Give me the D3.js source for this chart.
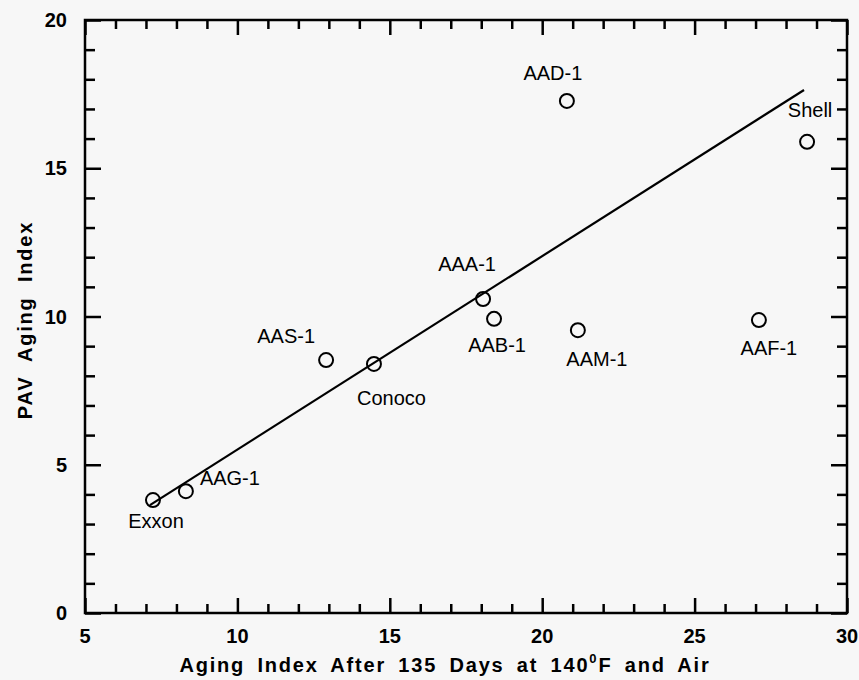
<!DOCTYPE html>
<html>
<head>
<meta charset="utf-8">
<script src="https://cdn.jsdelivr.net/npm/d3@7"></script>
<style>
  html, body { margin: 0; padding: 0; background: #f7f7f7; }
  svg { display: block; font-family: "Liberation Sans", Arial, Helvetica, sans-serif; }
  .axis path, .axis line { stroke: #000; stroke-width: 2.5; }
  .tick-label { font-size: 20px; font-weight: bold; fill: #000; }
  .pt-label { font-size: 20px; fill: #000; }
</style>
</head>
<body>
<div id="chart"></div>
<script>
// asphalt names + aging indices
const names = ["Exxon", "AAG-1", "AAS-1", "Conoco", "AAA-1", "AAB-1", "AAM-1", "AAF-1", "AAD-1", "Shell"];
const ovenIndex = [7.23, 8.31, 12.91, 14.48, 18.06, 18.42, 21.17, 27.11, 20.81, 28.69];
const pavIndex = [3.81, 4.11, 8.53, 8.40, 10.59, 9.92, 9.54, 9.88, 17.27, 15.89];

// fitted line ends
const fitX = [7.13, 28.59];
const fitY = [3.64, 17.64];

const xTicks = [5, 10, 15, 20, 25, 30];
const yTicks = [0, 5, 10, 15, 20];

// label placement (anchor, dx, dy) per point
const labelPos = [
  ["middle", 3, 28], ["start", 14, -6], ["end", -11, -17], ["start", -17, 41],
  ["middle", -16, -28], ["middle", 3, 33], ["middle", 19, 36], ["middle", 10, 35],
  ["middle", -14, -21], ["middle", 3, -25]
];

const width = 859, height = 680;
const mLeft = 85, mRight = 847, mTop = 20, mBottom = 613;

const x = d3.scaleLinear([5, 30], [mLeft, mRight]);
const y = d3.scaleLinear([0, 20], [mBottom, mTop]);

const svg = d3.select("#chart").append("svg")
  .attr("width", width)
  .attr("height", height);

svg.append("rect").attr("width", width).attr("height", height).attr("fill", "#f7f7f7");

const minorX = d3.range(5, 31, 1).filter(d => d % 5 !== 0);
const minorY = d3.range(0, 21, 1).filter(d => d % 5 !== 0);

// ticks pointing inward on all four sides
function addAxis(gen, tr, vals, size) {
  svg.append("g")
    .attr("class", "axis")
    .attr("transform", tr)
    .call(gen.tickValues(vals).tickSize(size).tickFormat(""))
    .call(g => g.select(".domain").remove());
}
addAxis(d3.axisBottom(x), `translate(0,${mBottom})`, xTicks, -15);
addAxis(d3.axisBottom(x), `translate(0,${mBottom})`, minorX, -9);
addAxis(d3.axisTop(x), `translate(0,${mTop})`, xTicks, -15);
addAxis(d3.axisTop(x), `translate(0,${mTop})`, minorX, -9);
addAxis(d3.axisLeft(y), `translate(${mLeft},0)`, yTicks, -16);
addAxis(d3.axisLeft(y), `translate(${mLeft},0)`, minorY, -10);
addAxis(d3.axisRight(y), `translate(${mRight},0)`, yTicks, -16);
addAxis(d3.axisRight(y), `translate(${mRight},0)`, minorY, -10);

svg.append("rect")
  .attr("x", mLeft).attr("y", mTop)
  .attr("width", mRight - mLeft).attr("height", mBottom - mTop)
  .attr("fill", "none").attr("stroke", "#000").attr("stroke-width", 2.5);

// tick labels
svg.selectAll(".xl").data(xTicks).join("text")
  .attr("class", "tick-label xl")
  .attr("x", d => x(d)).attr("y", 643)
  .attr("text-anchor", "middle")
  .text(d => d);

svg.selectAll(".yl").data(yTicks).join("text")
  .attr("class", "tick-label yl")
  .attr("x", 67).attr("y", d => y(d) + 7)
  .attr("text-anchor", "end")
  .text(d => d);

// fit line
svg.append("path")
  .attr("d", d3.line()(fitX.map((v, i) => [x(v), y(fitY[i])])))
  .attr("stroke", "#000").attr("stroke-width", 2.2).attr("fill", "none");

// points
svg.selectAll("circle.pt").data(names).join("circle")
  .attr("class", "pt")
  .attr("cx", (d, i) => x(ovenIndex[i]))
  .attr("cy", (d, i) => y(pavIndex[i]))
  .attr("r", 7)
  .attr("fill", "none")
  .attr("stroke", "#000")
  .attr("stroke-width", 2);

svg.selectAll("text.pt-label").data(names).join("text")
  .attr("class", "pt-label")
  .attr("text-anchor", (d, i) => labelPos[i][0])
  .attr("x", (d, i) => x(ovenIndex[i]) + labelPos[i][1])
  .attr("y", (d, i) => y(pavIndex[i]) + labelPos[i][2])
  .text(d => d);

// axis titles
const xt = svg.append("text")
  .attr("class", "tick-label")
  .attr("x", 445).attr("y", 672)
  .attr("text-anchor", "middle")
  .style("letter-spacing", "1.8px")
  .style("word-spacing", "5px");
xt.append("tspan").text("Aging Index After 135 Days at 140");
xt.append("tspan").attr("dy", -9).style("font-size", "13px").text("0");
xt.append("tspan").attr("dy", 9).text("F and Air");

svg.append("text")
  .attr("class", "tick-label")
  .attr("transform", "translate(32,320) rotate(-90)")
  .attr("text-anchor", "middle")
  .style("letter-spacing", "1.8px")
  .style("word-spacing", "7px")
  .text("PAV Aging Index");
</script>
</body>
</html>
